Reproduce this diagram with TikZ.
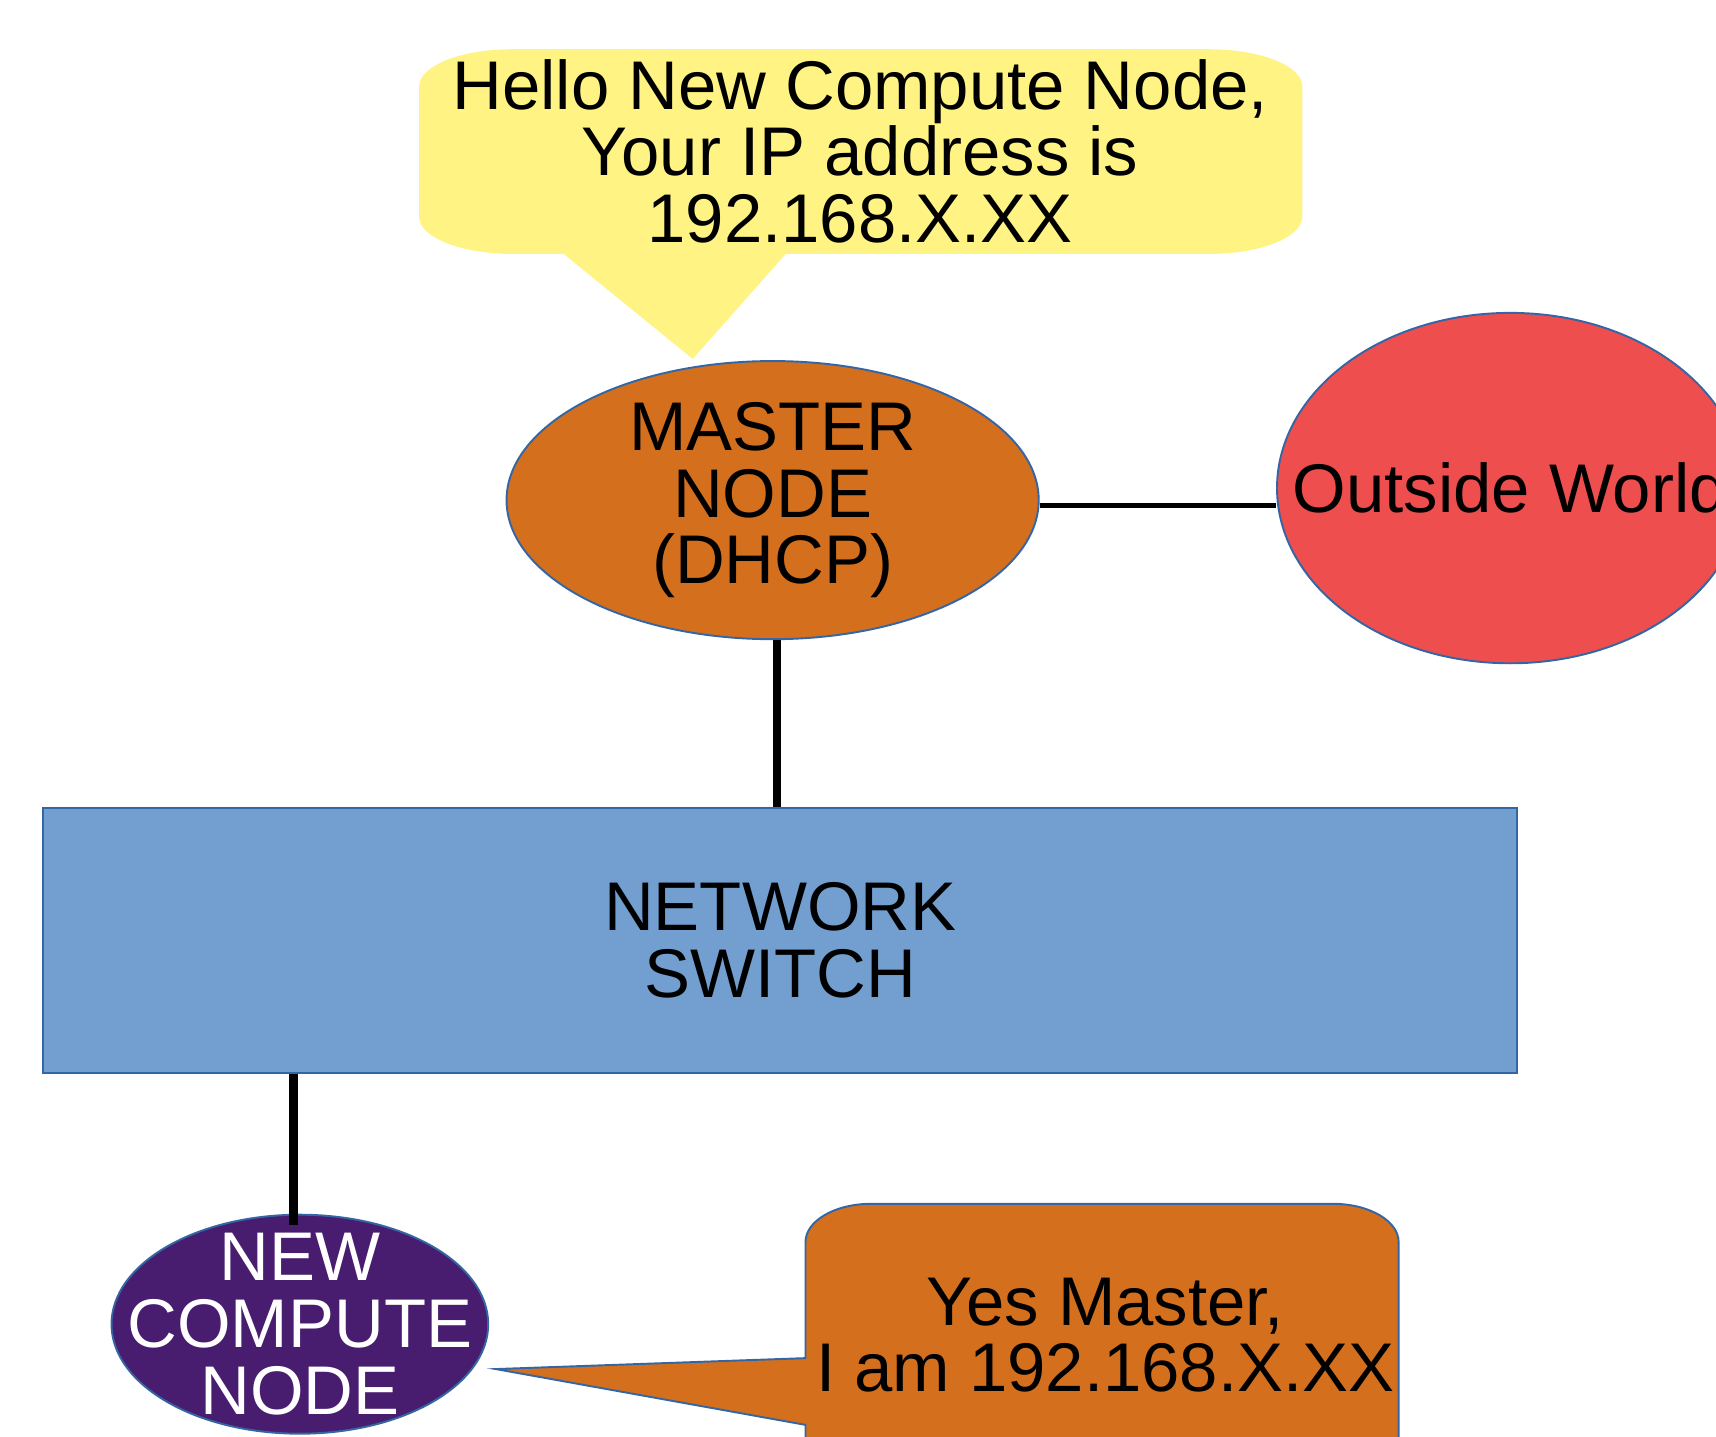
\documentclass[tikz,border=0pt]{standalone}
\usepackage{fontspec}
\setmainfont{Liberation Sans}
\usetikzlibrary{shapes.geometric}
\definecolor{bubbleyellow}{HTML}{FFF384}
\definecolor{masterorange}{HTML}{D4701D}
\definecolor{worldred}{HTML}{EF4E4E}
\definecolor{switchblue}{HTML}{729FCF}
\definecolor{nodepurple}{HTML}{481C6E}
\definecolor{edgeblue}{HTML}{3465A4}
\begin{document}
\begin{tikzpicture}[x=0.01cm, y=0.01cm]
    \tikzset{
        bigtext/.style={font=\fontsize{17.9}{17.3}\selectfont, align=center, inner sep=0pt},
        oval/.style={ellipse, draw=edgeblue, line width=0.5pt, inner sep=0pt},
        myline/.style={draw, black, line width=2.3pt},
    }
    \useasboundingbox (0,0) rectangle (1568,-1313);
    \clip (0,0) rectangle (1568,-1313);

    % speech bubbles
    \fill[bubbleyellow] (468,-45) -- (1105,-45)
        arc[start angle=90, end angle=0, x radius=0.85cm, y radius=0.34cm] -- (1190,-198)
        arc[start angle=0, end angle=-90, x radius=0.85cm, y radius=0.34cm] -- (718,-232)
        -- (633,-328) -- (515,-232) -- (468,-232)
        arc[start angle=270, end angle=180, x radius=0.85cm, y radius=0.34cm] -- (383,-79)
        arc[start angle=180, end angle=90, x radius=0.85cm, y radius=0.34cm] -- cycle;
    \filldraw[fill=masterorange, draw=edgeblue, line width=0.5pt] (736,-1400) -- (736,-1302)
        -- (453,-1251) -- (736,-1241) -- (736,-1135)
        arc[start angle=180, end angle=90, x radius=0.6cm, y radius=0.35cm] -- (1218,-1100)
        arc[start angle=90, end angle=0, x radius=0.6cm, y radius=0.35cm] -- (1278,-1400) -- cycle;

    \node[bigtext] (hello) at (786,-138) {Hello New Compute Node,\\Your IP address is\\192.168.X.XX};
    \node[bigtext] (reply) at (1010,-1220) {Yes Master,\\I am 192.168.X.XX};

    \node[oval, fill=masterorange, minimum width=4.86cm, minimum height=2.54cm,
        label={[bigtext]center:{MASTER\\NODE\\(DHCP)}}] (master) at (706,-457) {};
    \node[oval, fill=worldred, minimum width=4.26cm, minimum height=3.2cm,
        label={[bigtext]center:{Outside World}}] (outside) at (1380,-446) {};
    \node[rectangle, draw=edgeblue, line width=0.5pt, fill=switchblue,
        minimum width=13.46cm, minimum height=2.42cm, bigtext] (switch) at (713,-859) {NETWORK\\SWITCH};
    \node[oval, fill=nodepurple, minimum width=3.44cm, minimum height=2.0cm,
        label={[bigtext, white]center:{NEW\\COMPUTE\\NODE}}] (new) at (274,-1210) {};

    \draw[myline] ([xshift=0.04cm]master.south) -- ([xshift=0.04cm]master.south |- switch.north);
    \draw[myline] ([xshift=-0.06cm]new.north |- switch.south) -- ([xshift=-0.06cm,yshift=-0.1cm]new.north);
    \draw[myline, line width=1.5pt] ([yshift=-0.05cm]master.east) -- ([yshift=-0.05cm]master.east -| outside.west);
\end{tikzpicture}
\end{document}
